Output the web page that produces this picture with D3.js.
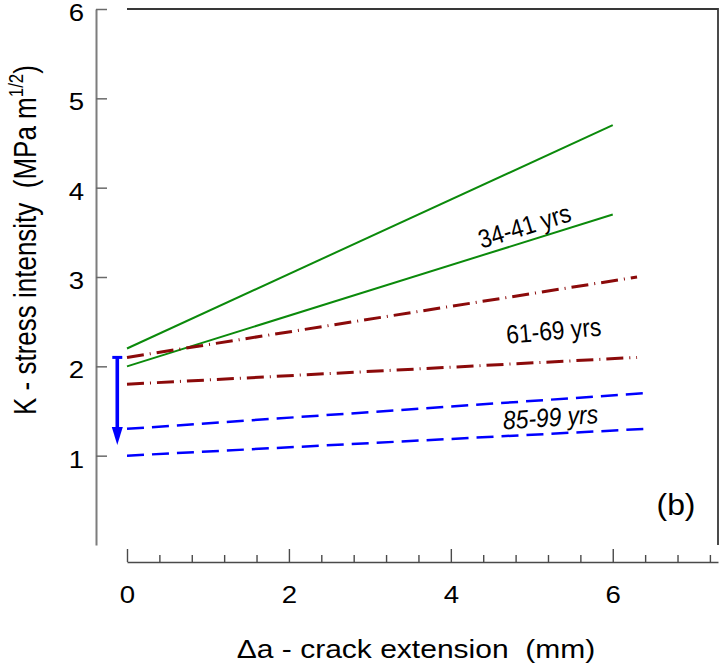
<!DOCTYPE html>
<html>
<head>
<meta charset="utf-8">
<script src="https://cdn.jsdelivr.net/npm/d3@7/dist/d3.min.js"></script>
<style>
  html, body { margin: 0; padding: 0; background: #fff; }
  svg { display: block; }
  text { font-family: "Liberation Sans", Arial, sans-serif; fill: #000; white-space: pre; }
</style>
</head>
<body>
<div id="chart"></div>
<script>
// Age groups and the two bounding K–Δa lines drawn for each group
const groupLabels = ["34-41 yrs", "61-69 yrs", "85-99 yrs"];
const upperK0   = [2.2, 2.1, 1.3];   // K at Δa = 0, upper line
const upperKEnd = [4.7, 3.0, 1.7];   // K at the line end, upper line
const lowerK0   = [2.0, 1.8, 1.0];   // K at Δa = 0, lower line
const lowerKEnd = [3.7, 2.1, 1.3];   // K at the line end, lower line
const lineEndDa = [6.0, 6.3, 6.4];   // Δa where each group's lines stop

// Axis ticks
const xMajorTicks = [0, 2, 4, 6];
const xMinorTicks = [0.4, 0.8, 1.2, 1.6, 2.4, 2.8, 3.2, 3.6, 4.4, 4.8, 5.2, 5.6, 6.4, 6.8, 7.2];
const yTicks = [1, 2, 3, 4, 5, 6];

// Arrow showing the drop in K with age
const arrowDa = -0.12;
const arrowFromK = 2.1;
const arrowToK = 1.12;

const W = 721, H = 667;
const SX = 1.2; // horizontal text stretch used throughout the figure

const svg = d3.select("#chart").append("svg")
  .attr("width", W).attr("height", H);

const x = d3.scaleLinear().domain([0, 7.3]).range([127, 718]);
const y = d3.scaleLinear().domain([0, 6]).range([545, 9]);

// Frame on the top and right sides
svg.append("path")
  .attr("d", `M${x(0)},${y(6)}H${x(7.3)}V${y(0)}`)
  .attr("fill", "none").attr("stroke", "#383838").attr("stroke-width", 1.8);

// Y axis (offset to the left, ticks pointing inward)
const yAxis = svg.append("g").attr("transform", "translate(96,0)")
  .call(d3.axisLeft(y).tickValues(yTicks).tickFormat(d3.format("d"))
    .tickSizeInner(-11).tickSizeOuter(0).tickPadding(12));
yAxis.select(".domain").attr("stroke", "#7d7d7d").attr("stroke-width", 2);
yAxis.selectAll(".tick line").attr("stroke", "#6a6a6a").attr("stroke-width", 1.5);
yAxis.selectAll(".tick text")
  .attr("x", 0).attr("dy", "0.5em")
  .attr("transform", `translate(-12,0) scale(${SX},1)`)
  .style("font-size", "23px").style("font-family", "Liberation Sans, Arial, sans-serif");

// X axis (offset below, ticks pointing inward)
const xAxisG = svg.append("g").attr("transform", "translate(0,562)");
xAxisG.append("g")
  .call(d3.axisBottom(x).tickValues(xMinorTicks).tickFormat("")
    .tickSizeInner(-7).tickSizeOuter(0))
  .call(g => g.select(".domain").remove())
  .call(g => g.selectAll(".tick line").attr("stroke", "#4a4a4a").attr("stroke-width", 1.4));
const xAxis = xAxisG.append("g")
  .call(d3.axisBottom(x).tickValues(xMajorTicks).tickFormat(d3.format("d"))
    .tickSizeInner(-13).tickSizeOuter(0).tickPadding(25));
xAxis.select(".domain").attr("stroke", "#4a4a4a").attr("stroke-width", 1.6);
xAxis.selectAll(".tick line").attr("stroke", "#4a4a4a").attr("stroke-width", 1.4);
xAxis.selectAll(".tick text")
  .attr("transform", `scale(${SX},1)`)
  .style("font-size", "23px").style("font-family", "Liberation Sans, Arial, sans-serif");

// Group lines
const line = d3.line().x(d => x(d[0])).y(d => y(d[1]));
const styles = [
  { stroke: "#0b8a0b", width: 2, dash: null },
  { stroke: "#8b0a0a", width: 3, dash: "17,6,1,6" },
  { stroke: "#0000ff", width: 2.5, dash: "17,8" }
];
groupLabels.forEach((name, i) => {
  const pairs = [
    [[0, upperK0[i]], [lineEndDa[i], upperKEnd[i]]],
    [[0, lowerK0[i]], [lineEndDa[i], lowerKEnd[i]]]
  ];
  pairs.forEach(pts => {
    svg.append("path")
      .attr("d", line(pts))
      .attr("fill", "none")
      .attr("stroke", styles[i].stroke)
      .attr("stroke-width", styles[i].width)
      .attr("stroke-dasharray", styles[i].dash);
  });
});

// Group labels set along their lines (slightly condensed lettering)
const labelPlace = [
  { at: [4.91, 3.57], angle: -17, italic: false },
  { at: [5.27, 2.40], angle: -5, italic: false },
  { at: [5.23, 1.43], angle: -4, italic: true }
];
groupLabels.forEach((name, i) => {
  const p = labelPlace[i];
  svg.append("text")
    .attr("transform", `translate(${x(p.at[0])},${y(p.at[1])}) rotate(${p.angle}) scale(0.88,1)`)
    .attr("text-anchor", "middle")
    .attr("dominant-baseline", "central")
    .style("font-size", "26px")
    .style("font-style", p.italic ? "italic" : "normal")
    .text(name);
});

// Arrow: T-bar at the start, filled head at the end
const ax = x(arrowDa);
const yFrom = y(arrowFromK), yTo = y(arrowToK);
const headLen = 18, headHalf = 5.5;
svg.append("line")
  .attr("x1", ax - 5).attr("x2", ax + 5).attr("y1", yFrom).attr("y2", yFrom)
  .attr("stroke", "#0000ff").attr("stroke-width", 3);
svg.append("line")
  .attr("x1", ax).attr("x2", ax).attr("y1", yFrom).attr("y2", yTo - headLen + 2)
  .attr("stroke", "#0000ff").attr("stroke-width", 3.6);
svg.append("path")
  .attr("d", `M${ax - headHalf},${yTo - headLen}L${ax + headHalf},${yTo - headLen}L${ax},${yTo}Z`)
  .attr("fill", "#0000ff");

// Panel tag
svg.append("text")
  .attr("transform", `translate(676,515) scale(1.1,1)`)
  .attr("text-anchor", "middle")
  .style("font-size", "29px")
  .text("(b)");

// Axis titles
svg.append("text")
  .attr("transform", `translate(416,658) scale(${SX},1)`)
  .attr("text-anchor", "middle")
  .style("font-size", "25px")
  .text("\u0394a - crack extension  (mm)");

const yTitle = svg.append("text")
  .attr("transform", `translate(36,240) scale(${SX},1) rotate(-90)`)
  .attr("text-anchor", "middle")
  .style("font-size", "26px");
yTitle.append("tspan").text("K - stress intensity  (MPa m");
yTitle.append("tspan").attr("dy", -11).style("font-size", "17px").text("1/2");
yTitle.append("tspan").attr("dy", 11).text(")");
</script>
</body>
</html>
